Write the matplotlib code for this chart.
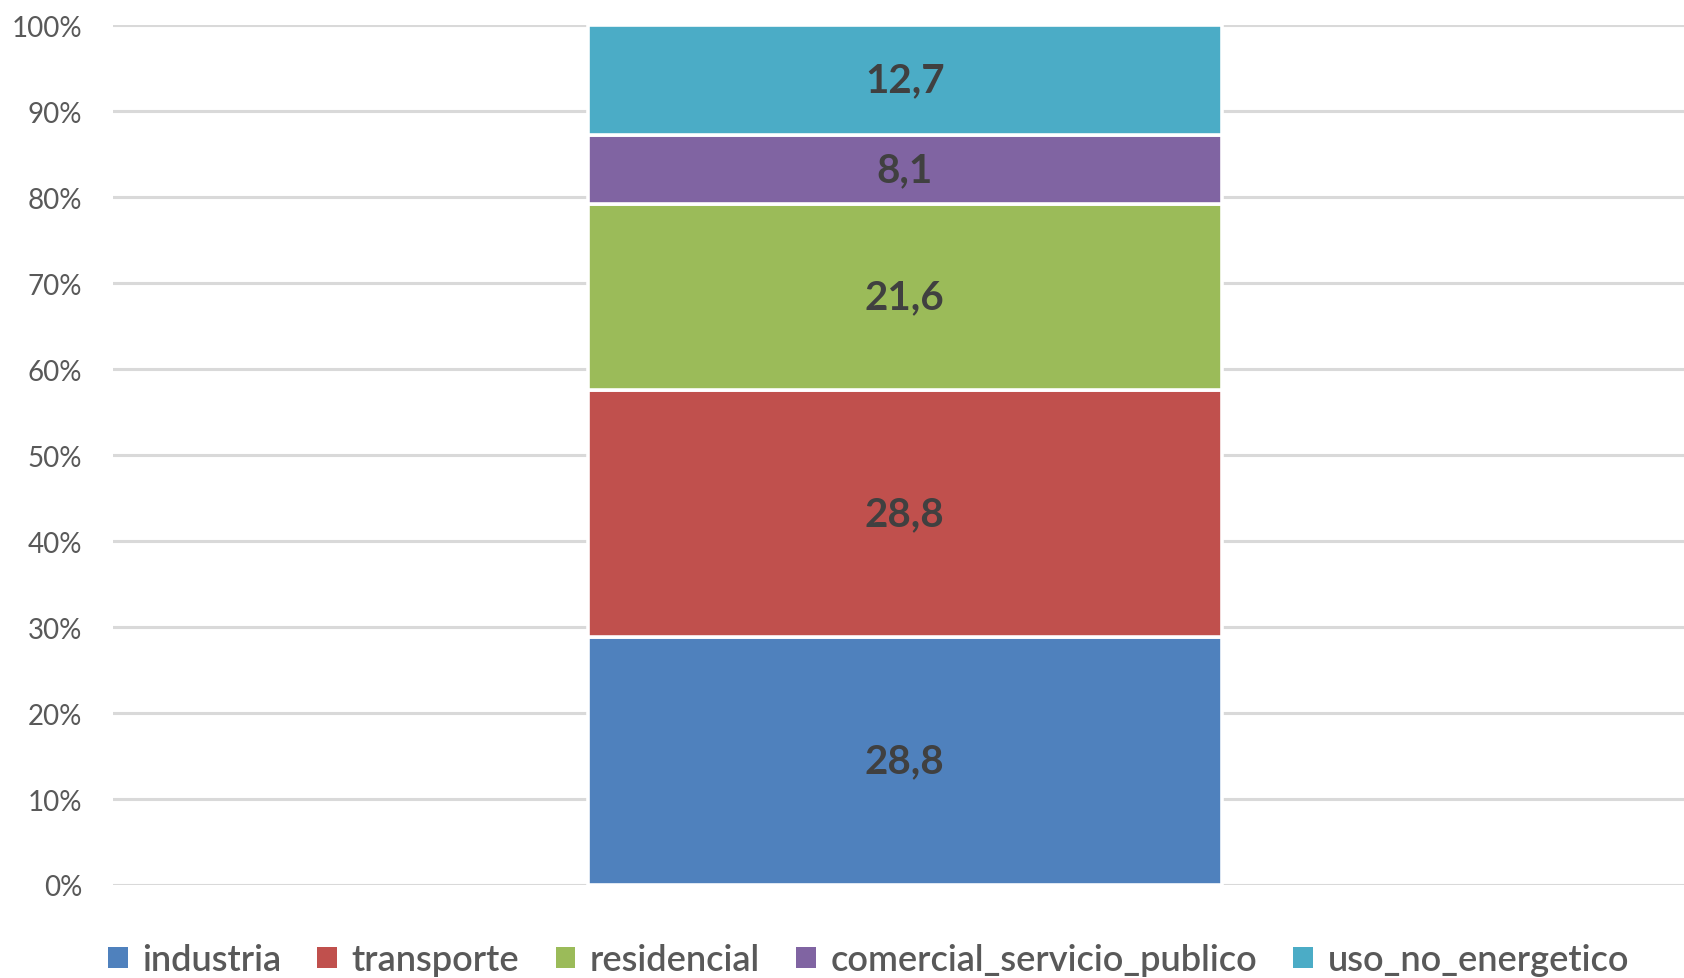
import numpy as np
import matplotlib
matplotlib.use("Agg")
from matplotlib import pyplot as plt
from matplotlib.ticker import PercentFormatter

sectores = ['industria', 'transporte', 'residencial',
            'comercial_servicio_publico', 'uso_no_energetico']
valores = [28.8, 28.8, 21.6, 8.1, 12.7]
colores = ['#4f81bd', '#c0504d', '#9bbb59', '#8064a2', '#4bacc6']

plt.rcParams['font.family'] = ['Lato', 'DejaVu Sans']

fig = plt.figure(figsize=(16.84, 9.79), dpi=100)
ax = fig.add_axes([0.067, 0.095, 0.933, 0.878])

total = sum(valores)
base = 0.0
for nombre, v, c in zip(sectores, valores, colores):
    pct = v / total * 100
    ax.bar(0, pct, bottom=base, width=1.0, color=c, edgecolor='white',
           linewidth=2.6, label=nombre, zorder=3)
    ax.text(0, base + pct / 2, f"{v:.1f}".replace('.', ','), ha='center',
            va='center', fontsize=29, fontweight='bold', color='#404040',
            zorder=4)
    base += pct

ax.set_xlim(-1.25, 1.23)
ax.set_ylim(0, 100)
ax.set_yticks(np.arange(0, 101, 10))
ax.yaxis.set_major_formatter(PercentFormatter(decimals=0))
ax.set_xticks([])
ax.tick_params(axis='y', length=0, pad=22, labelsize=20, labelcolor='#595959')
ax.grid(axis='y', color='#d9d9d9', linewidth=2.2, zorder=0)
for s in ax.spines.values():
    s.set_visible(False)

leg = ax.legend(loc='center', bbox_to_anchor=(0.481, -0.087), ncol=5,
                frameon=False, handlelength=0.55, handleheight=0.55,
                handletextpad=0.4, columnspacing=1.0, labelcolor='#595959',
                borderpad=0, prop={'size': 26, 'weight': 'semibold'})
for h in leg.legend_handles:
    h.set_linewidth(0)

fig.savefig('out.png', dpi=100)
